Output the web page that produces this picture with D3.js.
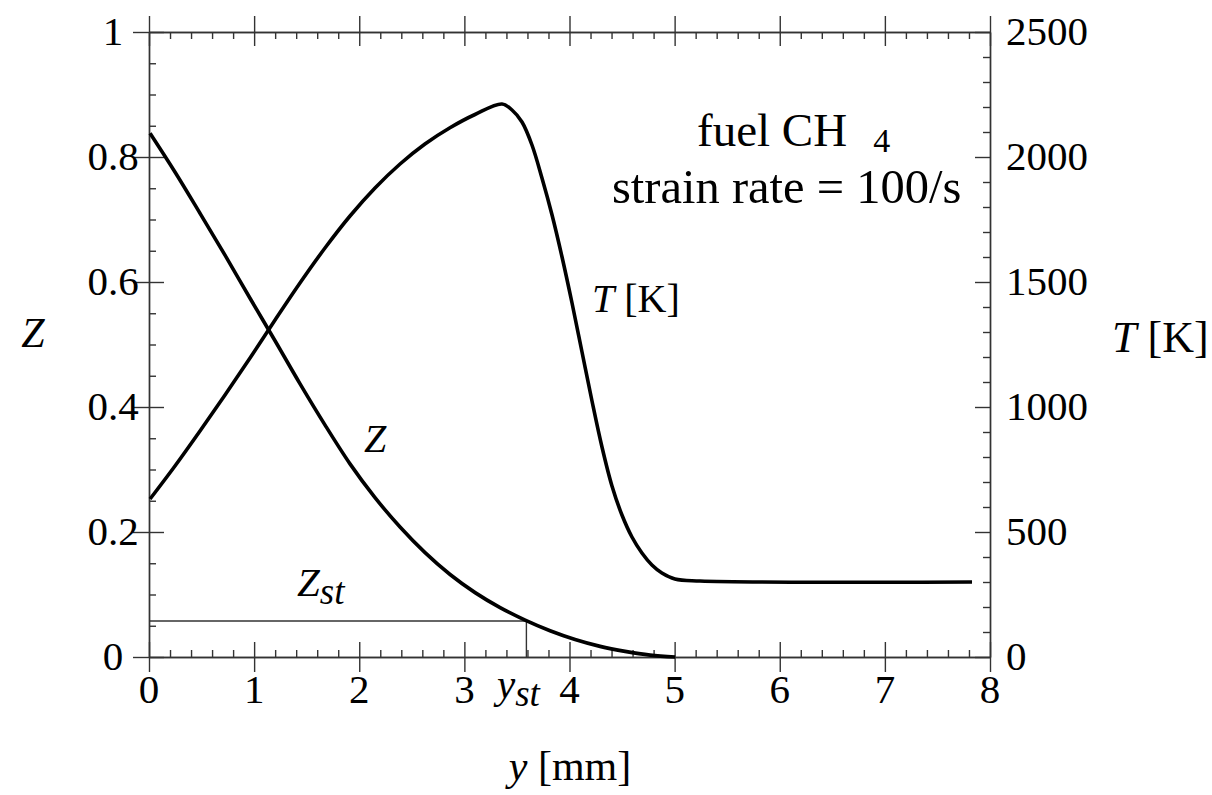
<!DOCTYPE html>
<html>
<head>
<meta charset="utf-8">
<script src="https://cdn.jsdelivr.net/npm/d3@7"></script>
<style>
  body { margin: 0; background: #fff; }
  svg { display: block; }
  text { font-family: "Liberation Serif", "DejaVu Serif", serif; fill: #000; }
</style>
</head>
<body>
<svg id="chart" width="1212" height="795"></svg>
<script>
// ---- data ----
const zY = [0.01, 0.247, 0.485, 0.723, 0.961, 1.199, 1.437, 1.675, 1.912, 2.150, 2.388, 2.626, 2.864, 3.102, 3.340, 3.578, 3.815, 4.053, 4.291, 4.529, 4.767, 5.005];
const zVal = [0.838, 0.776, 0.710, 0.643, 0.574, 0.506, 0.437, 0.371, 0.309, 0.255, 0.208, 0.167, 0.132, 0.103, 0.079, 0.059, 0.042, 0.028, 0.017, 0.009, 0.003, 0.000];

const tY = [0.01, 0.247, 0.485, 0.723, 0.961, 1.199, 1.436, 1.674, 1.912, 2.150, 2.388, 2.625, 2.863, 3.101, 3.358, 3.453, 3.548, 3.643, 3.738, 3.834, 3.929, 4.024, 4.119, 4.214, 4.309, 4.404, 4.499, 4.594, 4.689, 4.784, 4.879, 5.003, 5.241, 7.829];
const tVal = [632, 764, 904, 1048, 1196, 1348, 1496, 1636, 1764, 1876, 1972, 2052, 2117, 2170, 2212, 2188, 2140, 2048, 1916, 1768, 1600, 1416, 1220, 1024, 840, 684, 568, 480, 416, 368, 336, 312, 304, 300];

const xTicks = [0, 1, 2, 3, 4, 5, 6, 7, 8];
const zTicks = [0, 0.2, 0.4, 0.6, 0.8, 1];
const zTickLabels = ["0", "0.2", "0.4", "0.6", "0.8", "1"];
const tTicks = [0, 500, 1000, 1500, 2000, 2500];

const zSt = 0.0575;
const ySt = 3.59;

// ---- scales ----
const svg = d3.select("#chart");
const x = d3.scaleLinear().domain([0, 8]).range([149, 990]);
const yZ = d3.scaleLinear().domain([0, 1]).range([657, 32]);
const yT = d3.scaleLinear().domain([0, 2500]).range([657, 32]);

const axisColor = "#333";
const minorX = d3.range(0, 8.001, 0.2).filter(v => Math.abs(v - Math.round(v)) > 1e-6);
const minorZ = d3.range(0, 1.0001, 0.05).filter(v => Math.abs(v * 5 - Math.round(v * 5)) > 1e-6);
const minorT = d3.range(0, 2501, 100).filter(v => v % 500 !== 0);

function styleAxis(g) {
  g.select(".domain").attr("stroke", axisColor).attr("stroke-width", 1.4);
  g.selectAll(".tick line").attr("stroke", axisColor).attr("stroke-width", 1.4);
}

// bottom axis: major crossing, minor inward
const gB = svg.append("g").attr("transform", `translate(0,${yZ(0)})`)
  .call(d3.axisBottom(x).tickValues(xTicks).tickSizeOuter(0).tickFormat(""));
gB.selectAll(".tick line").attr("y1", -15).attr("y2", 15);
styleAxis(gB);
const gBm = svg.append("g").attr("transform", `translate(0,${yZ(0)})`)
  .call(d3.axisTop(x).tickValues(minorX).tickSize(7).tickSizeOuter(0).tickFormat(""));
styleAxis(gBm);

// top axis
const gTp = svg.append("g").attr("transform", `translate(0,${yZ(1)})`)
  .call(d3.axisTop(x).tickValues(xTicks).tickSizeOuter(0).tickFormat(""));
gTp.selectAll(".tick line").attr("y1", -16).attr("y2", 14);
styleAxis(gTp);
const gTpm = svg.append("g").attr("transform", `translate(0,${yZ(1)})`)
  .call(d3.axisBottom(x).tickValues(minorX).tickSize(7).tickSizeOuter(0).tickFormat(""));
styleAxis(gTpm);

// left axis
const gL = svg.append("g").attr("transform", `translate(${x(0)},0)`)
  .call(d3.axisLeft(yZ).tickValues(zTicks).tickSizeOuter(0).tickFormat(""));
gL.selectAll(".tick line").attr("x1", -16).attr("x2", 15);
styleAxis(gL);
const gLm = svg.append("g").attr("transform", `translate(${x(0)},0)`)
  .call(d3.axisRight(yZ).tickValues(minorZ).tickSize(7).tickSizeOuter(0).tickFormat(""));
styleAxis(gLm);

// right axis
const gR = svg.append("g").attr("transform", `translate(${x(8)},0)`)
  .call(d3.axisLeft(yT).tickValues(tTicks).tickSize(15).tickSizeOuter(0).tickFormat(""));
styleAxis(gR);
const gRm = svg.append("g").attr("transform", `translate(${x(8)},0)`)
  .call(d3.axisLeft(yT).tickValues(minorT).tickSize(7).tickSizeOuter(0).tickFormat(""));
styleAxis(gRm);

// tick labels
const fs = 41;
svg.append("g").selectAll("text").data(xTicks).join("text")
  .attr("x", d => x(d)).attr("y", 703).attr("text-anchor", "middle")
  .attr("font-size", fs).text(d => d);
svg.append("g").selectAll("text").data(zTicks).join("text")
  .attr("x", 113).attr("y", d => yZ(d) + 13).attr("text-anchor", "middle")
  .attr("font-size", fs).text((d, i) => zTickLabels[i]);
svg.append("g").selectAll("text").data(tTicks).join("text")
  .attr("x", 1006).attr("y", d => yT(d) + 13).attr("text-anchor", "start")
  .attr("font-size", fs).text(d => d);

// Zst / yst guide lines
svg.append("line")
  .attr("x1", x(0)).attr("x2", x(ySt)).attr("y1", yZ(zSt)).attr("y2", yZ(zSt))
  .attr("stroke", axisColor).attr("stroke-width", 1.4);
svg.append("line")
  .attr("x1", x(ySt)).attr("x2", x(ySt)).attr("y1", yZ(zSt)).attr("y2", yZ(0))
  .attr("stroke", axisColor).attr("stroke-width", 1.4);

// curves
const lineZ = d3.line().x((d, i) => x(zY[i])).y(d => yZ(d)).curve(d3.curveMonotoneX);
const lineT = d3.line().x((d, i) => x(tY[i])).y(d => yT(d)).curve(d3.curveCatmullRom.alpha(0.5));
svg.append("path").attr("d", lineZ(zVal)).attr("fill", "none")
  .attr("stroke", "#000").attr("stroke-width", 3.6).attr("stroke-linejoin", "round");
svg.append("path").attr("d", lineT(tVal)).attr("fill", "none")
  .attr("stroke", "#000").attr("stroke-width", 3.6).attr("stroke-linejoin", "round");

// labels
const lf = 42;
svg.append("text").attr("x", 33).attr("y", 347).attr("text-anchor", "middle")
  .attr("font-size", lf).attr("font-style", "italic").text("Z");

const tr = svg.append("text").attr("x", 1112).attr("y", 352).attr("font-size", 44);
tr.append("tspan").attr("font-style", "italic").text("T");
tr.append("tspan").text(" [K]");

const yl = svg.append("text").attr("x", 570).attr("y", 780).attr("text-anchor", "middle").attr("font-size", lf);
yl.append("tspan").attr("font-style", "italic").text("y");
yl.append("tspan").text(" [mm]");

const yst = svg.append("text").attr("x", 497).attr("y", 698).attr("font-size", 41);
yst.append("tspan").attr("font-style", "italic").text("y");
yst.append("tspan").attr("font-style", "italic").attr("font-size", 37).attr("dy", 8).text("st");

const zst = svg.append("text").attr("x", 297).attr("y", 596).attr("font-size", 41);
zst.append("tspan").attr("font-style", "italic").text("Z");
zst.append("tspan").attr("font-style", "italic").attr("font-size", 37).attr("dy", 8).text("st");

svg.append("text").attr("x", 364).attr("y", 452).attr("font-size", 40)
  .attr("font-style", "italic").text("Z");

const tl = svg.append("text").attr("x", 592).attr("y", 312).attr("font-size", 40);
tl.append("tspan").attr("font-style", "italic").text("T");
tl.append("tspan").text(" [K]");

const fuel = svg.append("text").attr("x", 697).attr("y", 146).attr("font-size", 47);
fuel.append("tspan").text("fuel CH");
fuel.append("tspan").attr("font-size", 34).attr("dx", 26).attr("dy", 6).text("4");

svg.append("text").attr("x", 612).attr("y", 203).attr("font-size", 48.5)
  .text("strain rate = 100/s");
</script>
</body>
</html>
